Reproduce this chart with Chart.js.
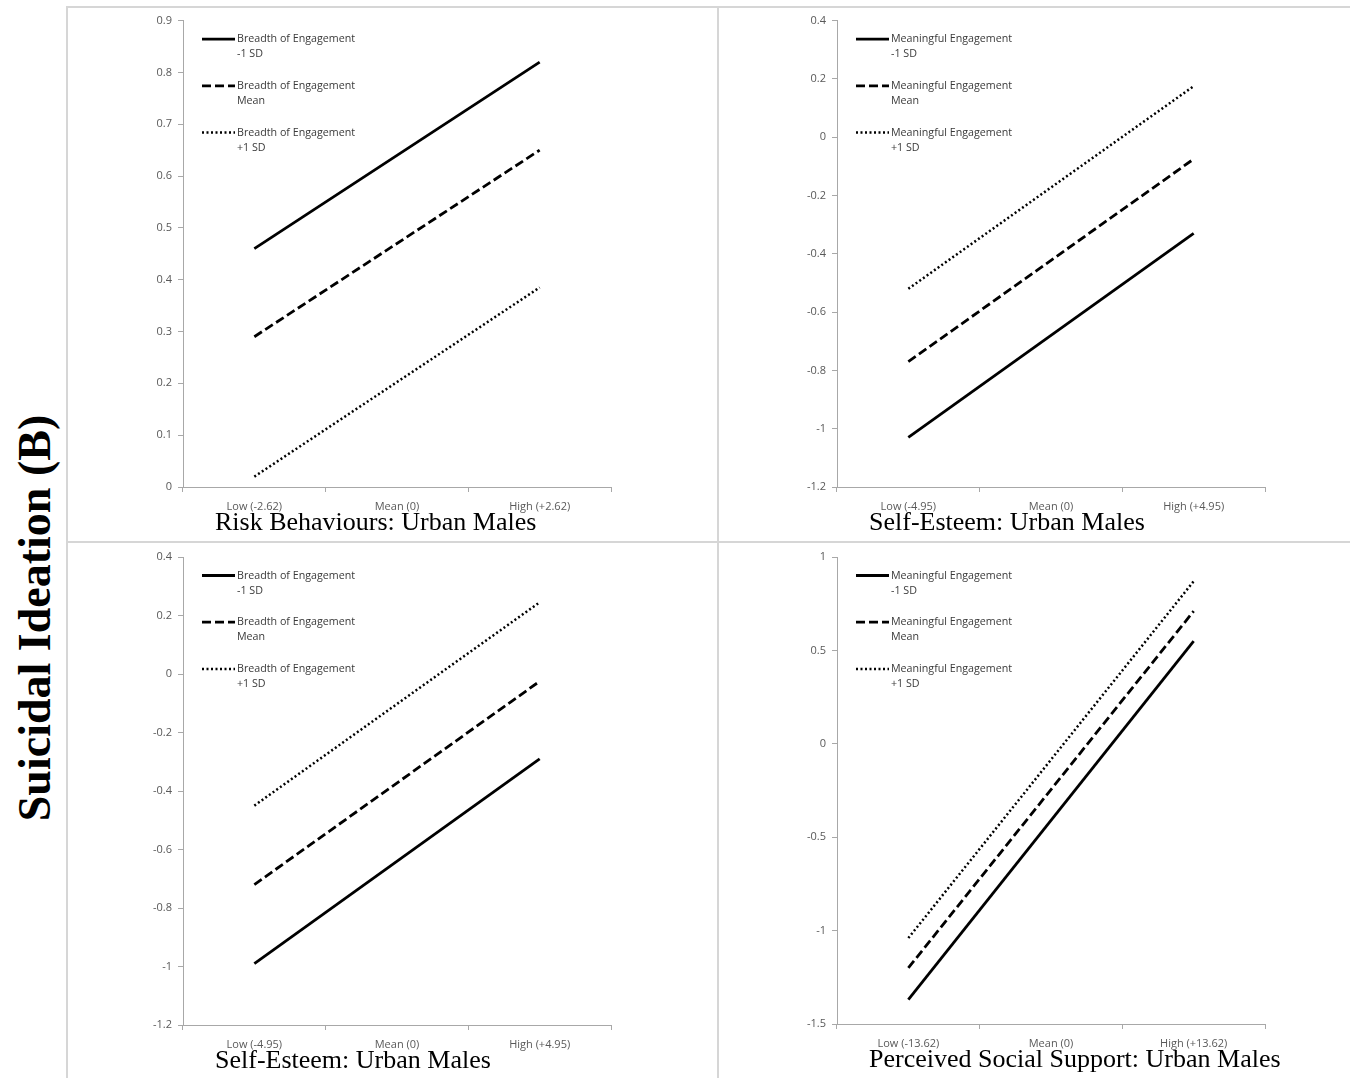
<!DOCTYPE html>
<html lang="en">
  <head>
    <meta charset="UTF-8" />
    <title>Suicidal Ideation (B)</title>
    <style>
      body { margin: 0; background: #fff; width: 1350px; height: 1078px; position: relative; overflow: hidden; }
      .frame { position: absolute; box-sizing: border-box; border: 2px solid #d6d6d6; }
      canvas { position: absolute; }
      #ylabel {
        position: absolute; left: 34px; top: 618px;
        transform: translate(-50%, -50%) rotate(-90deg);
        font: bold 46px "Liberation Serif", "Times New Roman", serif;
        white-space: nowrap; color: #000;
      }
    </style>
  </head>
  <body>
    <div class="frame" style="left:66px;top:6px;width:653px;height:537px"></div>
    <div class="frame" style="left:717px;top:6px;width:640px;height:537px"></div>
    <div class="frame" style="left:66px;top:541px;width:653px;height:540px"></div>
    <div class="frame" style="left:717px;top:541px;width:640px;height:540px"></div>
    <div id="ylabel">Suicidal Ideation (B)</div>

    <canvas id="c1" width="650" height="533" style="left:67px;top:8px"></canvas>
    <canvas id="c2" width="632" height="533" style="left:718px;top:8px"></canvas>
    <canvas id="c3" width="650" height="535" style="left:67px;top:543px"></canvas>
    <canvas id="c4" width="632" height="535" style="left:718px;top:543px"></canvas>

    <script src="https://cdn.jsdelivr.net/npm/chart.js@4.4.0/dist/chart.umd.min.js"></script>
    <script>
      // x categories
      const riskLabels = ["Low (-2.62)", "Mean (0)", "High (+2.62)"];
      const esteemLabels = ["Low (-4.95)", "Mean (0)", "High (+4.95)"];
      const supportLabels = ["Low (-13.62)", "Mean (0)", "High (+13.62)"];

      const levels = ["-1 SD", "Mean", "+1 SD"];

      // values read at Low and High; the middle is left empty and spanned
      const riskMinus = [0.46, null, 0.82];
      const riskMean = [0.29, null, 0.65];
      const riskPlus = [0.02, null, 0.385];

      const esteemMeanMinus = [-1.03, null, -0.33];
      const esteemMeanMean = [-0.77, null, -0.075];
      const esteemMeanPlus = [-0.52, null, 0.175];

      const esteemBreadthMinus = [-0.99, null, -0.29];
      const esteemBreadthMean = [-0.72, null, -0.025];
      const esteemBreadthPlus = [-0.45, null, 0.245];

      const supportMinus = [-1.37, null, 0.55];
      const supportMean = [-1.2, null, 0.71];
      const supportPlus = [-1.04, null, 0.87];

      const tickFont = { family: "'Open Sans', sans-serif", size: 11 };
      const styles = [
        { borderDash: [], borderWidth: 2.8 },
        { borderDash: [9, 4], borderWidth: 2.8 },
        { borderDash: [2, 2.5], borderWidth: 2.5 },
      ];

      // legend drawn inside the plot, top-left, two text lines per entry
      const innerLegend = {
        id: "innerLegend",
        afterDraw(chart) {
          const { ctx, chartArea } = chart;
          ctx.save();
          chart.data.datasets.forEach((ds, i) => {
            const y = chartArea.top + 18.5 + i * 46.7;
            ctx.beginPath();
            ctx.setLineDash(ds.borderDash);
            ctx.lineWidth = ds.borderWidth;
            ctx.strokeStyle = "#000";
            ctx.moveTo(chartArea.left + 19, y);
            ctx.lineTo(chartArea.left + 52, y);
            ctx.stroke();
            ctx.setLineDash([]);
            ctx.fillStyle = "#3a3a3a";
            ctx.font = "10.7px 'Open Sans', sans-serif";
            ctx.textBaseline = "middle";
            ds.label.split("\n").forEach((line, k) => {
              ctx.fillText(line, chartArea.left + 54, y + k * 15);
            });
          });
          ctx.restore();
        },
      };

      const panelTitle = {
        id: "panelTitle",
        afterDraw(chart, args, opts) {
          const { ctx, chartArea } = chart;
          ctx.save();
          ctx.fillStyle = "#000";
          ctx.font = "26px 'Liberation Serif', 'Times New Roman', serif";
          ctx.textBaseline = "alphabetic";
          ctx.fillText(opts.text, chartArea.left + 32, chartArea.bottom + 43);
          ctx.restore();
        },
      };

      function makeChart(id, labels, group, series, yMin, yMax, step, pad) {
        new Chart(document.getElementById(id), {
          type: "line",
          data: {
            labels: labels,
            datasets: series.map((s, i) => ({
              label: group + "\n" + levels[i],
              data: s,
              borderColor: "#000",
              borderWidth: styles[i].borderWidth,
              borderDash: styles[i].borderDash,
              pointRadius: 0,
              spanGaps: true,
              tension: 0,
            })),
          },
          options: {
            responsive: false,
            animation: false,
            layout: { padding: { top: pad.top, right: pad.right, left: 0, bottom: 0 } },
            plugins: {
              legend: { display: false },
              tooltip: { enabled: false },
              panelTitle: { text: pad.title },
            },
            scales: {
              x: {
                offset: true,
                grid: { offset: true, drawOnChartArea: false, tickLength: 5, tickColor: "#a8a8a8" },
                border: { color: "#a8a8a8", width: 1 },
                ticks: { color: "#595959", font: tickFont, padding: 8, maxRotation: 0 },
                afterFit: (s) => { s.height = pad.bottom; },
              },
              y: {
                min: yMin,
                max: yMax,
                grid: { drawOnChartArea: false, tickLength: 5, tickColor: "#a8a8a8" },
                border: { color: "#a8a8a8", width: 1 },
                ticks: {
                  stepSize: step,
                  color: "#595959",
                  font: tickFont,
                  padding: 6,
                  callback: (v) => String(Number(v.toFixed(2))),
                },
                afterFit: (s) => { s.width = pad.left; },
              },
            },
          },
          plugins: [innerLegend, panelTitle],
        });
      }

      makeChart("c1", riskLabels, "Breadth of Engagement", [riskMinus, riskMean, riskPlus], 0, 0.9, 0.1,
        { top: 10, right: 106, left: 116, bottom: 54, title: "Risk Behaviours: Urban Males" });
      makeChart("c2", esteemLabels, "Meaningful Engagement", [esteemMeanMinus, esteemMeanMean, esteemMeanPlus], -1.2, 0.4, 0.2,
        { top: 10, right: 85, left: 119, bottom: 54, title: "Self-Esteem: Urban Males" });
      makeChart("c3", esteemLabels, "Breadth of Engagement", [esteemBreadthMinus, esteemBreadthMean, esteemBreadthPlus], -1.2, 0.4, 0.2,
        { top: 14, right: 106, left: 116, bottom: 53, title: "Self-Esteem: Urban Males" });
      makeChart("c4", supportLabels, "Meaningful Engagement", [supportMinus, supportMean, supportPlus], -1.5, 1, 0.5,
        { top: 14, right: 85, left: 119, bottom: 54, title: "Perceived Social Support: Urban Males" });
    </script>
  </body>
</html>
